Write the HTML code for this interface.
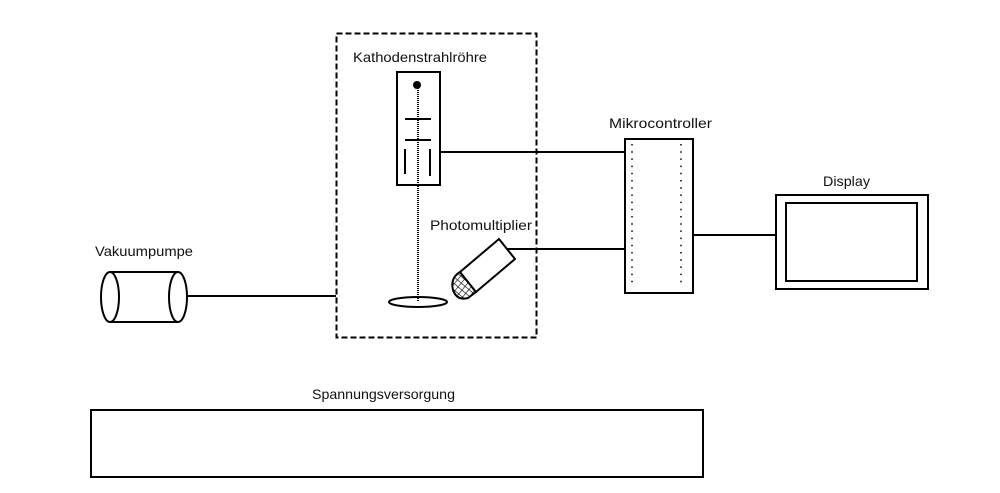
<!DOCTYPE html>
<html><head><meta charset="utf-8"><style>
html,body{margin:0;padding:0;background:#fff;}
svg{display:block;}
text{font-family:"Liberation Sans",sans-serif;font-size:14px;fill:#111;}
</style></head><body>
<svg width="1000" height="493" viewBox="0 0 1000 493" xmlns="http://www.w3.org/2000/svg">
<defs>
<pattern id="hatch" width="5" height="5" patternUnits="userSpaceOnUse" patternTransform="rotate(40)">
<path d="M0 0H5M0 0V5" stroke="#000" stroke-width="1.2" fill="none"/>
</pattern>
</defs>
<rect x="0" y="0" width="1000" height="493" fill="#fff"/>
<rect x="336.5" y="33.5" width="200" height="304" fill="none" stroke="#000" stroke-width="2" stroke-dasharray="6,3"/>
<text x="353" y="62" textLength="134" lengthAdjust="spacingAndGlyphs">Kathodenstrahlröhre</text>
<rect x="397" y="72" width="43" height="113" fill="#fff" stroke="#000" stroke-width="2"/>
<line x1="418" y1="86" x2="418" y2="302" stroke="#000" stroke-width="2" stroke-dasharray="1,1"/>
<circle cx="417" cy="85" r="4" fill="#000"/>
<line x1="405" y1="119" x2="431" y2="119" stroke="#000" stroke-width="2"/>
<line x1="405" y1="140" x2="431" y2="140" stroke="#000" stroke-width="2"/>
<line x1="405" y1="149" x2="405" y2="174" stroke="#000" stroke-width="2"/>
<line x1="430" y1="149" x2="430" y2="176" stroke="#000" stroke-width="2"/>
<ellipse cx="418" cy="302" rx="29" ry="5" fill="none" stroke="#000" stroke-width="2"/>
<text x="430" y="230" textLength="102" lengthAdjust="spacingAndGlyphs">Photomultiplier</text>
<path d="M460 272 Q450 278 453 290 Q457 301 468 298 L476 292 Z" fill="url(#hatch)" stroke="#000" stroke-width="2"/>
<polygon points="499,239 515,259 476,292 460,272" fill="#fff" stroke="#000" stroke-width="2"/>
<line x1="507" y1="249" x2="625" y2="249" stroke="#000" stroke-width="2"/>
<line x1="440" y1="152" x2="625" y2="152" stroke="#000" stroke-width="2"/>
<text x="95" y="256" textLength="98" lengthAdjust="spacingAndGlyphs">Vakuumpumpe</text>
<path d="M110 272 L178 272 M110 322 L178 322" stroke="#000" stroke-width="2"/>
<ellipse cx="110" cy="297" rx="9" ry="25" fill="#fff" stroke="#000" stroke-width="2"/>
<ellipse cx="178" cy="297" rx="9" ry="25" fill="#fff" stroke="#000" stroke-width="2"/>
<line x1="187" y1="296" x2="336" y2="296" stroke="#000" stroke-width="2"/>
<text x="609" y="128" textLength="103" lengthAdjust="spacingAndGlyphs">Mikrocontroller</text>
<rect x="625" y="139" width="68" height="154" fill="#fff" stroke="#000" stroke-width="2"/>
<line x1="632" y1="144" x2="632" y2="288" stroke="#000" stroke-width="1.5" stroke-dasharray="1.5,5.7"/>
<line x1="681" y1="144" x2="681" y2="288" stroke="#000" stroke-width="1.5" stroke-dasharray="1.5,5.7"/>
<line x1="693" y1="235" x2="776" y2="235" stroke="#000" stroke-width="2"/>
<text x="823" y="186" textLength="47" lengthAdjust="spacingAndGlyphs">Display</text>
<rect x="776" y="195" width="152" height="94" fill="#fff" stroke="#000" stroke-width="2"/>
<rect x="786" y="203" width="131" height="78" fill="#fff" stroke="#000" stroke-width="2"/>
<text x="312" y="399" textLength="143" lengthAdjust="spacingAndGlyphs">Spannungsversorgung</text>
<rect x="91" y="410" width="612" height="67" fill="#fff" stroke="#000" stroke-width="2"/>
</svg>
</body></html>
